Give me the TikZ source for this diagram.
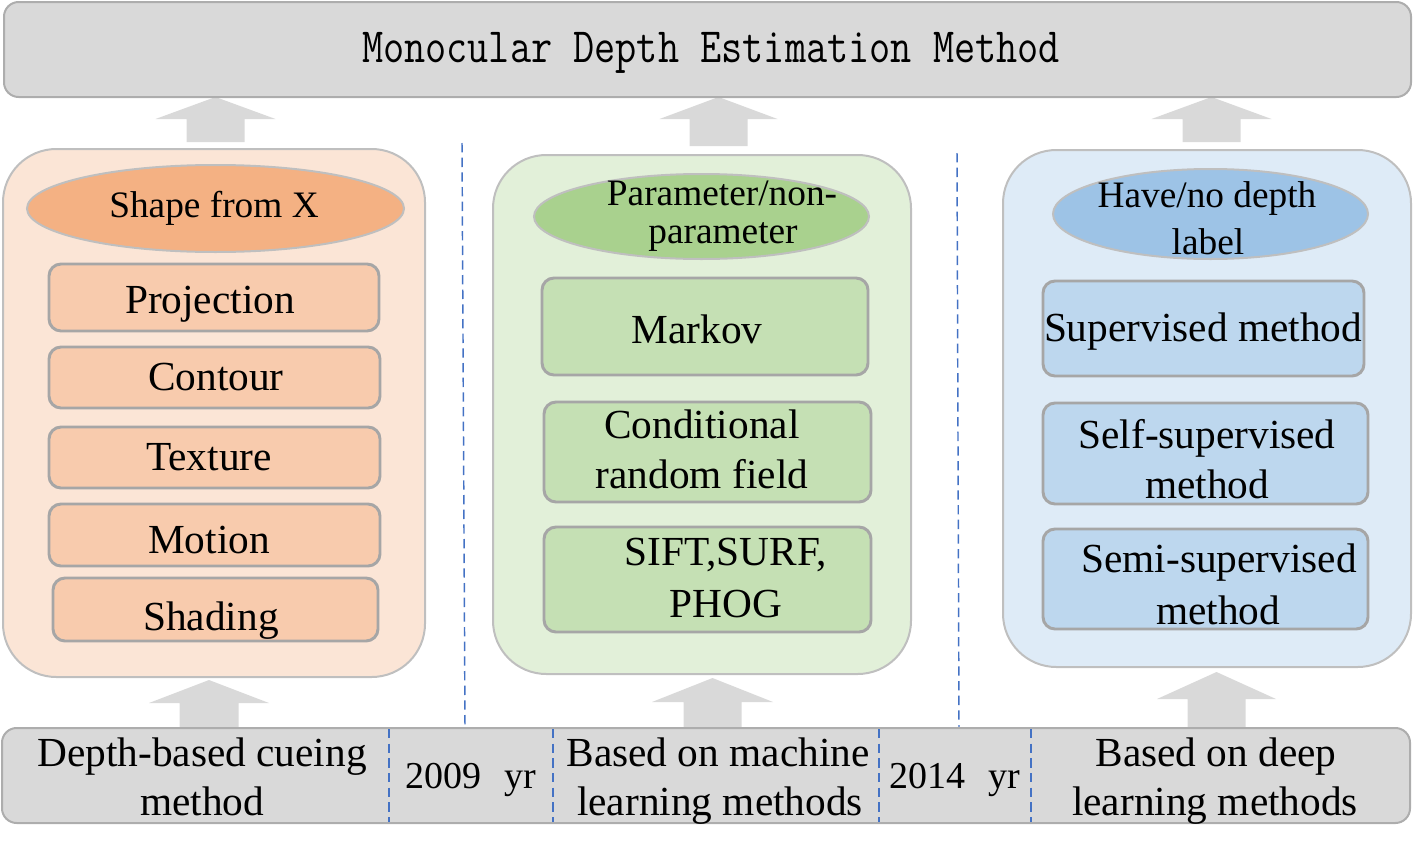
\documentclass[tikz,border=0pt]{standalone}
\usepackage{fontspec}
\usepackage{graphicx}
\setmainfont{Liberation Serif}
\usetikzlibrary{fit,shapes.geometric}
\definecolor{graybox}{HTML}{D9D9D9}
\definecolor{grayedge}{HTML}{ADADAD}
\definecolor{arrgray}{HTML}{D9D9D9}
\definecolor{paneledge}{HTML}{BFBFBF}
\definecolor{itemedge}{HTML}{A6A6A6}
\definecolor{orpanel}{HTML}{FBE5D6}
\definecolor{oroval}{HTML}{F4B183}
\definecolor{orbox}{HTML}{F8CBAD}
\definecolor{grpanel}{HTML}{E2F0D9}
\definecolor{groval}{HTML}{A9D18E}
\definecolor{grbox}{HTML}{C5E0B4}
\definecolor{blpanel}{HTML}{DEEBF7}
\definecolor{bloval}{HTML}{9DC3E6}
\definecolor{blbox}{HTML}{BDD7EE}
\definecolor{dashblue}{HTML}{4472C4}
\newcommand{\MyUpArrow}[6]{%
  \fill[arrgray] (#1,#2) -- (#1+#5,#3) -- (#1+#6,#3) -- (#1+#6,#4) -- (#1-#6,#4) -- (#1-#6,#3) -- (#1-#5,#3) -- cycle;}
\begin{document}
\begin{tikzpicture}[x=0.75pt,y=-0.75pt,
  bandbox/.style={draw=grayedge, line width=1.5pt, fill=graybox, rounded corners=11pt, inner sep=0pt},
  panelbox/.style={draw=paneledge, line width=1.5pt, rounded corners=40pt, inner sep=0pt},
  itembox/.style={draw=itemedge, line width=2.2pt, rounded corners=9pt, inner sep=0pt},
  ovalbox/.style={ellipse, draw=paneledge, line width=1.5pt, inner sep=0pt},
  btxt/.style={font=\fontsize{31}{37}\selectfont, anchor=base, inner sep=0pt},
  otxt/.style={font=\fontsize{28}{33}\selectfont, anchor=base, inner sep=0pt},
  ytxt/.style={font=\fontsize{28.5}{34}\selectfont, anchor=base, inner sep=0pt},
  divider/.style={draw=dashblue, line width=1.1pt, dash pattern=on 7pt off 4pt}]
\useasboundingbox (0,0) rectangle (1413,853);

% up arrows
\MyUpArrow{215.5}{97}{119}{142}{60}{29}
\MyUpArrow{718.5}{97}{119}{146}{59}{29}
\MyUpArrow{1211.5}{97}{119}{142}{60}{29}
\MyUpArrow{209}{680}{703}{728}{60}{29.5}
\MyUpArrow{712.5}{678}{702}{728}{60.5}{29}
\MyUpArrow{1216.5}{672}{699}{728}{59.5}{29}

% long dashed separators
\coordinate (s1a) at (462,143);
\coordinate (s1b) at (465,727);
\coordinate (s2a) at (957,153);
\coordinate (s2b) at (959,729);
\draw[divider] (s1a) -- (s1b);
\draw[divider] (s2a) -- (s2b);

% top box
\node[bandbox, fit={(4,2) (1411,97)}] (top) {};
\node[font=\ttfamily\fontsize{30.8}{34}\selectfont, anchor=base, inner sep=0pt] (title) at (711,62)
  {\scalebox{1}[1.2]{Monocular Depth Estimation Method}};

% left panel
\node[panelbox, fill=orpanel, fit={(3,149) (425,677)}] (lpanel) {};
\node[ovalbox, fill=oroval, minimum width=282.75pt, minimum height=65.25pt] (loval) at (215.5,208.5) {};
\node[otxt] (lovalt) at (214,217) {Shape from X};
\node[itembox, fill=orbox, fit={(49,264) (379,331)}] (proj) {};
\node[btxt] (projt) at (210,313) {Projection};
\node[itembox, fill=orbox, fit={(49,347) (380,408)}] (cont) {};
\node[btxt] (contt) at (216,390) {Contour};
\node[itembox, fill=orbox, fit={(49,427) (380,488)}] (text) {};
\node[btxt] (textt) at (209,470) {Texture};
\node[itembox, fill=orbox, fit={(49,504) (380,566)}] (moti) {};
\node[btxt] (motit) at (209,553) {Motion};
\node[itembox, fill=orbox, fit={(53,578) (378,641)}] (shad) {};
\node[btxt] (shadt) at (211,630) {Shading};

% middle panel
\node[panelbox, fill=grpanel, fit={(493,155) (911,674)}] (mpanel) {};
\node[ovalbox, fill=groval, minimum width=251.25pt, minimum height=63.75pt] (moval) at (701.5,216.5) {};
\node[otxt] (movalt1) at (722,205) {Parameter/non-};
\node[otxt] (movalt2) at (723,243) {parameter};
\node[itembox, fill=grbox, fit={(542,278) (868,375)}] (mark) {};
\node[btxt] (markt) at (697,343) {Markov};
\node[itembox, fill=grbox, fit={(544,402) (871,502)}] (crf) {};
\node[btxt] (crft1) at (702,438) {Conditional};
\node[btxt] (crft2) at (702,488) {random field};
\node[itembox, fill=grbox, fit={(544,527) (871,632)}] (sift) {};
\node[btxt] (siftt1) at (726,565) {SIFT,SURF,};
\node[btxt] (siftt2) at (726,617) {PHOG};

% right panel
\node[panelbox, fill=blpanel, fit={(1003,150) (1411,667)}] (rpanel) {};
\node[ovalbox, fill=bloval, minimum width=236.25pt, minimum height=67.5pt] (roval) at (1210.5,214) {};
\node[otxt] (rovalt1) at (1207,207) {Have/no depth};
\node[otxt] (rovalt2) at (1208,254) {label};
\node[itembox, fill=blbox, fit={(1043,281) (1364,376)}] (sup) {};
\node[btxt] (supt) at (1203,341) {Supervised method};
\node[itembox, fill=blbox, fit={(1043,403) (1368,504)}] (self) {};
\node[btxt] (selft1) at (1207,448) {Self-supervised};
\node[btxt] (selft2) at (1207,498) {method};
\node[itembox, fill=blbox, fit={(1043,529) (1368,629)}] (semi) {};
\node[btxt] (semit1) at (1219,572) {Semi-supervised};
\node[btxt] (semit2) at (1218,624) {method};

% bottom band
\node[bandbox, fit={(2,728) (1410,823)}] (bottom) {};
\coordinate (d1a) at (389,729); \coordinate (d1b) at (389,822);
\coordinate (d2a) at (553,729); \coordinate (d2b) at (553,822);
\coordinate (d3a) at (879,729); \coordinate (d3b) at (879,822);
\coordinate (d4a) at (1031,729); \coordinate (d4b) at (1031,822);
\draw[divider] (d1a) -- (d1b);
\draw[divider] (d2a) -- (d2b);
\draw[divider] (d3a) -- (d3b);
\draw[divider] (d4a) -- (d4b);
\node[btxt] (b1a) at (202,766) {Depth-based cueing};
\node[btxt] (b1b) at (202,815) {method};
\node[ytxt] (y1) at (471,788) {2009\hspace{17pt}yr};
\node[btxt] (b2a) at (718,766) {Based on machine};
\node[btxt] (b2b) at (720,815) {learning methods};
\node[ytxt] (y2) at (955,788) {2014\hspace{17pt}yr};
\node[btxt] (b3a) at (1216,766) {Based on deep};
\node[btxt] (b3b) at (1215,815) {learning methods};
\end{tikzpicture}
\end{document}
